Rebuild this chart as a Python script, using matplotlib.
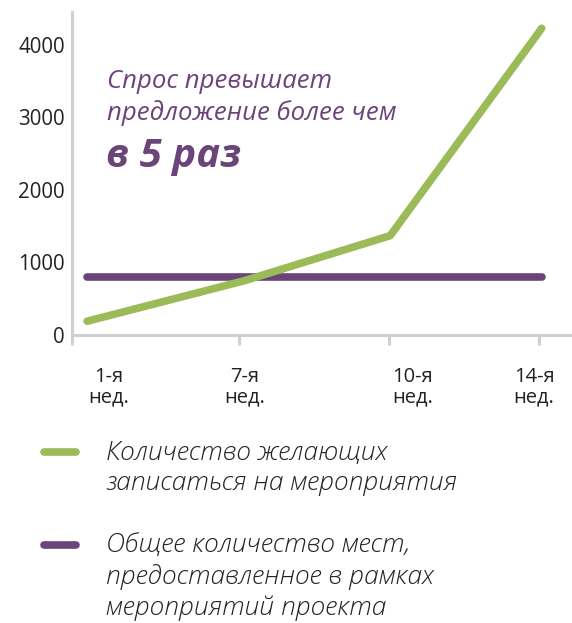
import matplotlib
matplotlib.use("Agg")
import matplotlib.pyplot as plt
from matplotlib.lines import Line2D

# ---- data ----
week_labels = ["1-я\nнед.", "7-я\nнед.", "10-я\nнед.", "14-я\nнед."]
x_pos = [0.0, 1.04, 2.0, 3.0]          # positions of the weekly points
demand = [190, 750, 1370, 4230]        # Количество желающих
capacity = [800, 800, 800, 800]        # Общее количество мест
series_labels = ["Количество желающих\nзаписаться на мероприятия",
                 "Общее количество мест,\nпредоставленное в рамках\nмероприятий проекта"]
yticks = [0, 1000, 2000, 3000, 4000]

GREEN = "#9bbb59"
PURPLE = "#6b4479"
AXIS = "#d0d0d0"
FONT = ["Open Sans", "DejaVu Sans"]
plt.rcParams['font.family'] = FONT

fig = plt.figure(figsize=(5.72, 6.23), dpi=100)
ax = fig.add_axes([72/572, (623-335)/623, 1-72/572, (335-12)/623])

ax.plot(x_pos, capacity, color=PURPLE, lw=5.5, solid_capstyle='round', zorder=3)
ax.plot(x_pos, demand, color=GREEN, lw=5.5, solid_capstyle='round', zorder=4)

ax.set_xlim(-0.1, 3.2)
ax.set_ylim(0, 4455)

for s in ['top', 'right']:
    ax.spines[s].set_visible(False)
for s in ['left', 'bottom']:
    ax.spines[s].set_color(AXIS)
    ax.spines[s].set_linewidth(2.2)

ax.set_yticks(yticks)
ax.set_yticklabels([str(v) for v in yticks], fontsize=14.8, color="#222222")
ax.tick_params(axis='y', length=0, pad=5)

# tick marks and separate label positions
ax.set_xticks([-0.1, 1.0, 1.99, 2.98])
ax.set_xticklabels([])
ax.tick_params(axis='x', which='major', length=7, width=2.2, color=AXIS)
ax.set_xticks([0.14, 1.04, 2.15, 2.95], minor=True)
ax.set_xticklabels(week_labels, minor=True, fontsize=14.5, color="#222222",
                   linespacing=1.05)
ax.tick_params(axis='x', which='minor', length=0, pad=23)

# annotation
def px2fig(x, y):
    return x / 572, 1 - y / 623

ann_lines = ["Спрос превышает", "предложение более чем"]
for i, line in enumerate(ann_lines):
    fx, fy = px2fig(107, 82 + i * 31)
    fig.text(fx, fy, line, fontsize=18.5, style='italic', color=PURPLE,
             va='center', ha='left')
fx, fy = px2fig(106, 157)
fig.text(fx, fy, "в 5 раз", fontsize=29, style='italic', weight='bold',
         color=PURPLE, va='center', ha='left')

# manual legend
colors = [GREEN, PURPLE]
ys = [452, 545]
for c, lab, yy in zip(colors, series_labels, ys):
    _, fy = px2fig(0, yy)
    fig.add_artist(Line2D([44/572, 76/572], [fy, fy], color=c, lw=5.5,
                          solid_capstyle='round', transform=fig.transFigure))
    for i, line in enumerate(lab.split("\n")):
        fx, fy = px2fig(106, yy + 1 + i * 31)
        fig.text(fx, fy, line, fontsize=19, style='italic',
                 color="#222222", va='center', ha='left', fontweight='light')

fig.savefig("out.png", dpi=100)
